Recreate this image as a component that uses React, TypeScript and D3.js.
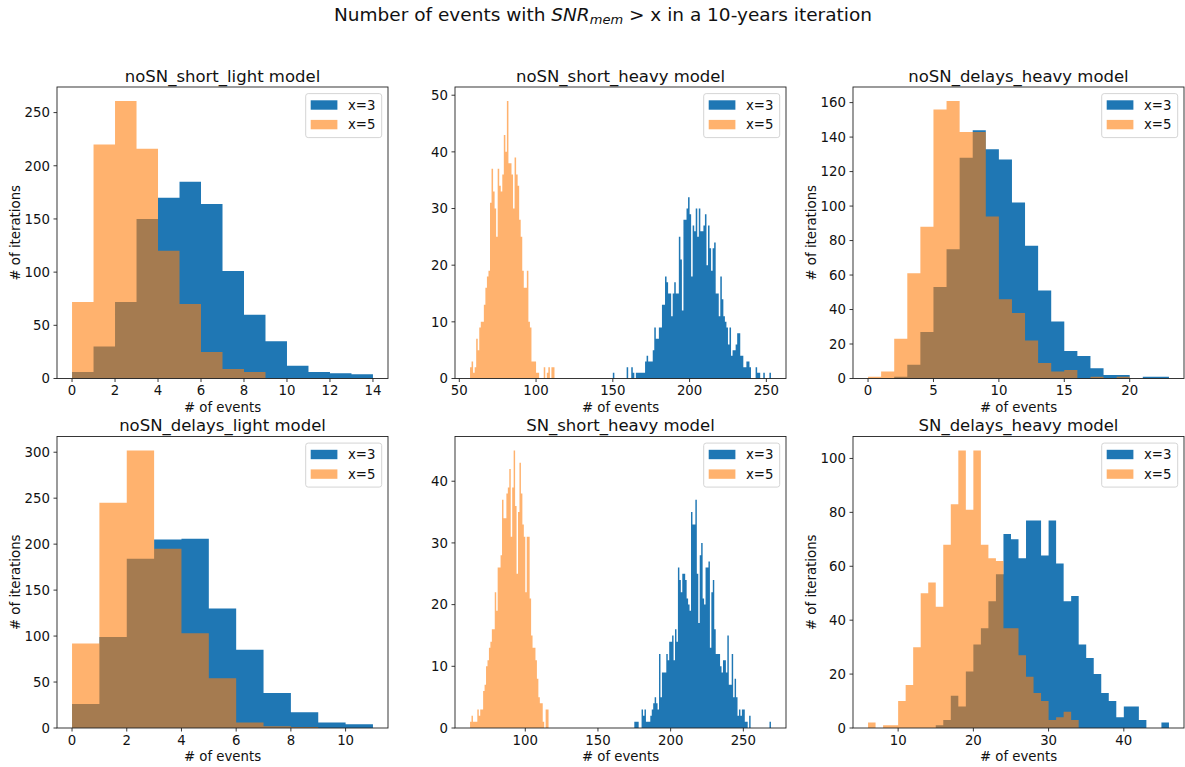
import React from "react";
import * as d3 from "d3";

const BLUE = "#1f77b4";
const ORANGE = "#ff7f0e";
const FONT = "'DejaVu Sans', 'Liberation Sans', sans-serif";

// histogram counts, one bin per integer; *Start is the left edge of the first bin
const shortLightX3Start = 0;
const shortLightX3 = [6, 30, 72, 150, 170, 185, 164, 101, 60, 35, 12, 6, 5, 4];
const shortLightX5Start = 0;
const shortLightX5 = [72, 220, 261, 216, 120, 70, 25, 9, 6];

const shortHeavyX3Start = 150;
const shortHeavyX3 = [
  1, 0, 0, 0, 0, 0, 0, 0, 0, 2, 0, 0, 2, 1, 0, 1, 1, 1, 1, 1, 1,
  3, 4, 3, 3, 3, 5, 9, 7, 7, 9,
  9, 13, 13, 18, 17, 15, 15, 11, 15, 17,
  15, 15, 25, 21, 12, 28, 28, 30, 32, 29,
  18, 27, 26, 30, 25, 30, 26, 26, 27, 29,
  20, 27, 23, 19, 23, 24, 15, 15, 11, 18,
  14, 11, 10, 9, 6, 9, 4, 5, 5, 6,
  8, 8, 4, 4, 2, 2, 3, 3, 2, 0,
  0, 0, 2, 1, 1, 0, 0, 1, 0, 0,
  0, 1,
];
const shortHeavyX5Start = 57;
const shortHeavyX5 = [
  2, 3, 1, 2, 7, 5, 9, 10, 10, 13,
  16, 18, 19, 31, 37, 33, 30, 25, 37, 34,
  33, 36, 43, 40, 49, 38, 38, 36, 30, 39,
  36, 34, 28, 25, 19, 16, 16, 19, 10, 9,
  3, 3, 3, 1, 1, 0, 0, 0, 2, 0,
  1, 2, 0, 2, 2,
];

const delaysHeavyX3Start = 2;
const delaysHeavyX3 = [1, 8, 27, 53, 75, 128, 144, 133, 127, 102, 77, 51, 33, 16, 13, 6, 2, 2, 0, 1, 1];
const delaysHeavyX5Start = 0;
const delaysHeavyX5 = [1, 4, 23, 61, 88, 156, 161, 143, 143, 94, 46, 38, 22, 9, 4, 5, 0, 1, 0, 1];

const delaysLightX3Start = 0;
const delaysLightX3 = [26, 99, 184, 205, 206, 130, 85, 38, 17, 6, 4];
const delaysLightX5Start = 0;
const delaysLightX5 = [92, 245, 302, 195, 103, 54, 6, 2, 1];

const snShortHeavyX3Start = 175;
const snShortHeavyX3 = [
  1, 1, 1, 0, 0, 3, 2, 3, 1, 1,
  1, 2, 3, 4, 5, 4, 3, 12, 5, 9,
  9, 9, 12, 11, 14, 14, 15, 11, 16, 14,
  26, 24, 22, 25, 25, 24, 21, 20, 19, 35,
  33, 33, 37, 25, 17, 28, 30, 21, 20, 26,
  26, 27, 13, 22, 24, 16, 12, 12, 12, 10,
  9, 11, 11, 9, 15, 7, 7, 12, 5, 8,
  5, 2, 3, 2, 3, 3, 1, 1, 0, 2,
  0, 0, 0, 0, 0, 0, 0, 0, 0, 0,
  0, 0, 0, 1,
];
const snShortHeavyX5Start = 62;
const snShortHeavyX5 = [
  1, 2, 1, 1, 1, 3, 2, 3, 3, 6,
  7, 10, 11, 13, 14, 16, 16, 22, 19, 26,
  26, 28, 37, 34, 34, 38, 39, 42, 31, 39,
  45, 36, 25, 35, 43, 38, 33, 31, 22, 31,
  31, 21, 15, 13, 13, 11, 8, 5, 4, 4,
  1, 0, 3, 3,
];

const snDelaysHeavyX3Start = 15;
const snDelaysHeavyX3 = [
  1, 3, 12, 8, 21, 31, 37, 47, 57, 72, 70, 63, 77, 77, 64, 77,
  61, 47, 49, 31, 26, 20, 13, 10, 4, 8, 8, 3, 0, 0, 2,
];
const snDelaysHeavyX5Start = 6;
const snDelaysHeavyX5 = [
  2, 0, 1, 1, 10, 16, 30, 50, 54, 45, 68, 83, 103, 81, 103, 68,
  63, 62, 37, 37, 27, 19, 13, 10, 3, 4, 6, 3,
];

const titles = [
  "noSN_short_light model",
  "noSN_short_heavy model",
  "noSN_delays_heavy model",
  "noSN_delays_light model",
  "SN_short_heavy model",
  "SN_delays_heavy model",
];
const xTickSets = [
  [0, 2, 4, 6, 8, 10, 12, 14],
  [50, 100, 150, 200, 250],
  [0, 5, 10, 15, 20],
  [0, 2, 4, 6, 8, 10],
  [100, 150, 200, 250],
  [10, 20, 30, 40],
];
const yTickSets = [
  [0, 50, 100, 150, 200, 250],
  [0, 10, 20, 30, 40, 50],
  [0, 20, 40, 60, 80, 100, 120, 140, 160],
  [0, 50, 100, 150, 200, 250, 300],
  [0, 10, 20, 30, 40],
  [0, 20, 40, 60, 80, 100],
];
const legendLabels = ["x=3", "x=5"];

const panels = [
  { x3Start: shortLightX3Start, x3: shortLightX3, x5Start: shortLightX5Start, x5: shortLightX5, yLabel: true },
  { x3Start: shortHeavyX3Start, x3: shortHeavyX3, x5Start: shortHeavyX5Start, x5: shortHeavyX5, yLabel: false },
  { x3Start: delaysHeavyX3Start, x3: delaysHeavyX3, x5Start: delaysHeavyX5Start, x5: delaysHeavyX5, yLabel: true },
  { x3Start: delaysLightX3Start, x3: delaysLightX3, x5Start: delaysLightX5Start, x5: delaysLightX5, yLabel: true },
  { x3Start: snShortHeavyX3Start, x3: snShortHeavyX3, x5Start: snShortHeavyX5Start, x5: snShortHeavyX5, yLabel: false },
  { x3Start: snDelaysHeavyX3Start, x3: snDelaysHeavyX3, x5Start: snDelaysHeavyX5Start, x5: snDelaysHeavyX5, yLabel: true },
].map((p, i) => ({ ...p, title: titles[i], xTicks: xTickSets[i], yTicks: yTickSets[i] }));

const COL_LEFT = [57, 455, 853];
const ROW_TOP = [87, 436.5];
const AX_W = 331;
const AX_H = 291.5;
const TICK = 3.5;

// step points for a histogram: one per bin start, plus the closing edge
const toSteps = (start: number, counts: number[]) => [
  ...counts.map((c, i) => ({ v: start + i, c })),
  { v: start + counts.length, c: counts[counts.length - 1] },
];

const Hist = ({ p, left, top }: any) => {
  const lo = Math.min(p.x3Start, p.x5Start);
  const hi = Math.max(p.x3Start + p.x3.length, p.x5Start + p.x5.length);
  const pad = (hi - lo) * 0.05;
  const x = d3.scaleLinear().domain([lo - pad, hi + pad]).range([0, AX_W]);
  const yMax = (d3.max([...p.x3, ...p.x5]) as number) * 1.05;
  const y = d3.scaleLinear().domain([0, yMax]).range([AX_H, 0]);

  const area = d3
    .area<any>()
    .x((d) => x(d.v))
    .y0(AX_H)
    .y1((d) => y(d.c))
    .curve(d3.curveStepAfter);

  const lgW = 76;
  const lgX = AX_W - 6.3 - lgW;
  const lgY = 6.6;

  return (
    <g transform={`translate(${left},${top})`} fontFamily={FONT}>
      <path d={area(toSteps(p.x3Start, p.x3)) || ""} fill={BLUE} />
      <path d={area(toSteps(p.x5Start, p.x5)) || ""} fill={ORANGE} fillOpacity={0.6} />
      <rect x={0} y={0} width={AX_W} height={AX_H} fill="none" stroke="#222" strokeWidth={0.9} />
      {p.xTicks.map((t: number) => (
        <g key={`xt${t}`} transform={`translate(${x(t)},${AX_H})`}>
          <line y2={TICK} stroke="#222" strokeWidth={0.9} />
          <text y={16.5} textAnchor="middle" fontSize={13.3} fill="#111">
            {t}
          </text>
        </g>
      ))}
      {p.yTicks.map((t: number) => (
        <g key={`yt${t}`} transform={`translate(0,${y(t)})`}>
          <line x2={-TICK} stroke="#222" strokeWidth={0.9} />
          <text x={-7} dy="0.36em" textAnchor="end" fontSize={13.3} fill="#111">
            {t}
          </text>
        </g>
      ))}
      <text x={AX_W / 2} y={-5.3} textAnchor="middle" fontSize={16.5} fill="#111">
        {p.title}
      </text>
      <text x={AX_W / 2} y={AX_H + 33} textAnchor="middle" fontSize={13.3} fill="#111">
        # of events
      </text>
      {p.yLabel && (
        <text
          transform={`translate(-37,${AX_H / 2}) rotate(-90)`}
          textAnchor="middle"
          fontSize={13.3}
          fill="#111"
        >
          # of iterations
        </text>
      )}
      <g transform={`translate(${lgX},${lgY})`}>
        <rect width={lgW} height={44} rx={2.5} fill="#fff" fillOpacity={0.8} stroke="#d0d0d0" strokeWidth={0.9} />
        {legendLabels.map((lab, i) => (
          <g key={lab} transform={`translate(0,${11.4 + i * 19.6})`}>
            <rect x={5} y={-4.7} width={26.7} height={9.4} fill={i === 0 ? BLUE : ORANGE} fillOpacity={i === 0 ? 1 : 0.6} />
            <text x={42.3} dy="0.36em" fontSize={13.3} fill="#111">
              {lab}
            </text>
          </g>
        ))}
      </g>
    </g>
  );
};

export default function App() {
  return (
    <svg
      width={1185}
      height={767}
      style={{ position: "absolute", left: 0, top: 0, background: "#fff" }}
    >
      <rect width={1185} height={767} fill="#fff" />
      <text x={603} y={20.5} textAnchor="middle" fontFamily={FONT} fontSize={18.5} fill="#111">
        <tspan>Number of events with </tspan>
        <tspan fontStyle="italic">SNR</tspan>
        <tspan fontStyle="italic" fontSize={13} dy={3.8}>
          mem
        </tspan>
        <tspan dy={-3.8}> &gt; x in a 10-years iteration</tspan>
      </text>
      {panels.map((p, i) => (
        <Hist key={i} p={p} left={COL_LEFT[i % 3]} top={ROW_TOP[Math.floor(i / 3)]} />
      ))}
    </svg>
  );
}
